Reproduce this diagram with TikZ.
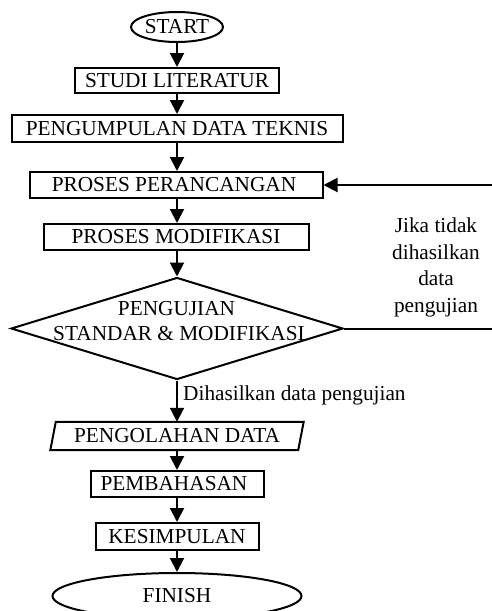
\documentclass[tikz,border=0pt]{standalone}
\usepackage{fontspec}
\setmainfont{Liberation Serif}
\usetikzlibrary{arrows.meta,shapes.geometric}
\begin{document}
\begin{tikzpicture}[x=1pt,y=-1pt,
  every node/.style={font=\fontsize{21.3}{26.5}\selectfont, inner sep=0pt},
  box/.style={draw, line width=2pt, rectangle},
  oval/.style={draw, line width=2pt, ellipse},
  arr/.style={line width=2pt, -{Triangle[length=14pt,width=14pt]}},
  ln/.style={line width=2pt}]
\useasboundingbox (0,0) rectangle (491,611);
\node[oval, minimum width=92pt, minimum height=30pt] (start) at (177,27) {START};
\node[box, minimum width=204pt, minimum height=25pt] (studi) at (177,80.5) {STUDI LITERATUR};
\node[box, minimum width=331pt, minimum height=27pt] (kumpul) at (177,128.5) {PENGUMPULAN DATA TEKNIS};
\node[box, minimum width=293pt, minimum height=26pt] (rancang) at (176,185) {};
\node[anchor=center] (rancangt) at (174,185) {PROSES PERANCANGAN};
\node[box, minimum width=265pt, minimum height=26pt] (modif) at (176,237) {PROSES MODIFIKASI};
\node[draw, diamond, line width=2pt, minimum width=332pt, minimum height=102pt] (uji) at (177,328.5) {};
\node[anchor=base] (ujia) at (176.5,315) {PENGUJIAN};
\node[anchor=base] (ujib) at (179,340) {STANDAR \& MODIFIKASI};
\node (olah) at (177,436) [minimum width=253pt, minimum height=28pt] {PENGOLAHAN DATA};
\draw[ln] ([xshift=5.5pt]olah.north west) -- (olah.north east) -- ([xshift=-5.5pt]olah.south east) -- (olah.south west) -- cycle;
\node[box, minimum width=173pt, minimum height=26pt] (bahas) at (177,484) {};
\node[anchor=center] (bahast) at (174,484) {PEMBAHASAN};
\node[box, minimum width=163pt, minimum height=27pt] (simpul) at (177,536.5) {KESIMPULAN};
\node[oval, minimum width=249pt, minimum height=46pt] (finish) at (177,596) {FINISH};
\node[anchor=base west] (ya) at (183,400) {Dihasilkan data pengujian};
\node[anchor=north, align=center] (tidak) at (436,218) {Jika tidak\\dihasilkan\\data\\pengujian};
\coordinate (fb) at (510,328.5);
\draw[arr] (start) -- (studi);
\draw[arr] (studi) -- (kumpul);
\draw[arr] (kumpul) -- (kumpul.south |- rancang.north);
\draw[arr] (rancang.south -| kumpul.south) -- (kumpul.south |- modif.north);
\draw[arr] (modif.south -| uji.north) -- (uji.north);
\draw[arr] (uji.south) -- (olah.north);
\draw[arr] (olah) -- (bahas);
\draw[arr] (bahas) -- (simpul);
\draw[arr] (simpul) -- (finish);
\draw[arr] (uji.east) -- (fb) |- (rancang.east);
\end{tikzpicture}
\end{document}
